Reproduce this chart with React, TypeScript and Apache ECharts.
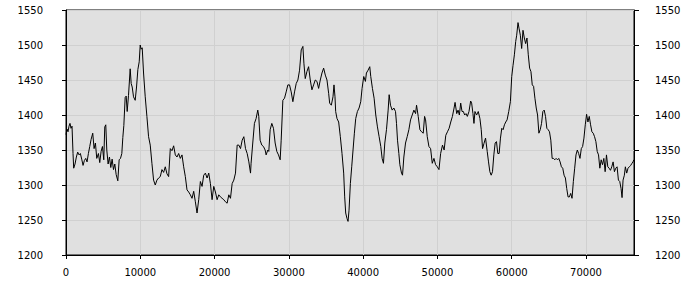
import React, { useEffect, useRef } from "react";
import * as echarts from "echarts";

const xValues: number[] = [
  0, 135, 270, 405, 540, 675, 810, 945, 1035, 1215, 1395, 1575, 1755, 1935, 2115, 2295, 2475, 2655, 2835, 3015,
  3195, 3375, 3600, 3780, 3960, 4140, 4365, 4545, 4725, 4905, 5085, 5220, 5355, 5490, 5670, 5850, 6030, 6210, 6390, 6570,
  6750, 6975, 7155, 7335, 7515, 7650, 7785, 7965, 8100, 8235, 8415, 8640, 8775, 8910, 9090, 9315, 9495, 9675, 9855, 9990,
  10125, 10260, 10440, 10665, 10890, 11115, 11340, 11565, 11790, 12015, 12240, 12465, 12690, 12915, 13140, 13365, 13590, 13815, 14040, 14265,
  14490, 14715, 14940, 15165, 15390, 15615, 15840, 16065, 16290, 16515, 16740, 16965, 17190, 17415, 17640, 17865, 18090, 18315, 18540, 18765,
  18990, 19215, 19440, 19665, 19890, 20115, 20340, 20565, 20790, 21015, 21240, 21465, 21690, 21915, 22140, 22365, 22590, 22815, 23040, 23265,
  23490, 23715, 23940, 24165, 24390, 24615, 24840, 24915, 25140, 25365, 25590, 25815, 25950, 26130, 26355, 26580, 26805, 26940, 27165, 27300,
  27480, 27705, 27930, 28155, 28380, 28605, 28830, 28965, 29190, 29415, 29640, 29865, 30090, 30315, 30540, 30765, 30990, 31215, 31440, 31665,
  31890, 32025, 32205, 32430, 32655, 32880, 33105, 33330, 33555, 33780, 34005, 34230, 34455, 34680, 34905, 35130, 35355, 35490, 35715, 35940,
  36075, 36210, 36300, 36480, 36705, 36930, 37155, 37380, 37515, 37650, 37830, 37965, 38100, 38280, 38460, 38640, 38820, 39000, 39225, 39450,
  39675, 39855, 40080, 40305, 40440, 40665, 40890, 41025, 41250, 41475, 41700, 41925, 42150, 42375, 42555, 42735, 42915, 43140, 43365, 43500,
  43680, 43905, 44130, 44355, 44490, 44625, 44805, 44940, 45165, 45300, 45480, 45705, 45930, 46155, 46380, 46605, 46830, 47055, 47190, 47415,
  47640, 47865, 48090, 48270, 48405, 48630, 48855, 49080, 49305, 49530, 49755, 49980, 50205, 50430, 50680, 50902, 51125, 51348, 51571, 51794,
  52017, 52240, 52374, 52597, 52775, 52953, 53132, 53310, 53488, 53667, 53845, 54024, 54247, 54470, 54604, 54782, 54916, 55050, 55273, 55495,
  55718, 55897, 56075, 56254, 56477, 56700, 56878, 57056, 57235, 57413, 57592, 57770, 57948, 58127, 58305, 58484, 58662, 58840, 59019, 59197,
  59376, 59599, 59822, 60000, 60178, 60357, 60535, 60669, 60847, 60981, 61160, 61338, 61516, 61695, 61873, 62052, 62230, 62408, 62587, 62765,
  62944, 63122, 63300, 63479, 63657, 63836, 64014, 64192, 64371, 64549, 64728, 64906, 65084, 65263, 65441, 65620, 65798, 65976, 66155, 66333,
  66512, 66690, 66868, 67047, 67225, 67404, 67582, 67760, 67939, 68117, 68296, 68474, 68652, 68831, 69009, 69188, 69366, 69544, 69723, 69901,
  70080, 70258, 70436, 70615, 70793, 70972, 71150, 71328, 71507, 71685, 71864, 72042, 72220, 72399, 72577, 72756, 72934, 73112, 73291, 73469,
  73648, 73826, 74004, 74183, 74361, 74540, 74718, 74852, 74986, 75164, 75298, 75476, 75655, 75833, 76012, 76190, 76324, 76440
];

const yValues: number[] = [
  1372, 1380, 1376, 1384, 1388, 1381, 1384, 1345, 1324, 1330, 1340, 1347, 1343, 1345, 1337, 1328, 1335, 1338, 1333, 1345,
  1355, 1365, 1374, 1352, 1360, 1338, 1345, 1332, 1348, 1355, 1336, 1383, 1386, 1350, 1330, 1340, 1325, 1337, 1322, 1330,
  1315, 1306, 1336, 1338, 1345, 1368, 1385, 1425, 1427, 1405, 1428, 1466, 1445, 1440, 1426, 1421, 1440, 1465, 1476, 1500,
  1494, 1496, 1460, 1426, 1398, 1369, 1357, 1331, 1307, 1300, 1307, 1310, 1312, 1322, 1318, 1326, 1316, 1312, 1352, 1349,
  1356, 1343, 1340, 1345, 1338, 1343, 1326, 1312, 1293, 1290, 1286, 1281, 1291, 1276, 1260, 1279, 1305, 1298, 1314, 1317,
  1310, 1317, 1302, 1279, 1298, 1290, 1279, 1286, 1283, 1281, 1279, 1276, 1274, 1286, 1281, 1302, 1307, 1317, 1357, 1357,
  1352, 1364, 1369, 1352, 1345, 1333, 1317, 1331, 1360, 1388, 1395, 1407, 1398, 1364, 1357, 1355, 1350, 1343, 1350, 1348,
  1379, 1388, 1381, 1360, 1348, 1343, 1336, 1364, 1421, 1424, 1433, 1443, 1443, 1433, 1419, 1433, 1445, 1450, 1464, 1493,
  1498, 1474, 1452, 1462, 1469, 1450, 1436, 1443, 1450, 1448, 1438, 1450, 1460, 1467, 1457, 1450, 1431, 1417, 1414, 1426,
  1443, 1426, 1405, 1395, 1390, 1369, 1345, 1317, 1283, 1260, 1252, 1248, 1264, 1302, 1326, 1350, 1374, 1395, 1405, 1410,
  1419, 1438, 1455, 1448, 1460, 1464, 1469, 1455, 1438, 1424, 1400, 1383, 1369, 1355, 1338, 1331, 1360, 1379, 1407, 1429,
  1414, 1407, 1410, 1405, 1388, 1364, 1345, 1329, 1317, 1314, 1340, 1360, 1369, 1379, 1393, 1400, 1407, 1402, 1414, 1398,
  1379, 1376, 1374, 1398, 1393, 1369, 1355, 1352, 1331, 1338, 1329, 1326, 1322, 1345, 1357, 1350, 1371, 1376, 1381, 1390,
  1398, 1410, 1418, 1402, 1407, 1400, 1417, 1405, 1405, 1400, 1402, 1398, 1405, 1420, 1417, 1402, 1388, 1405, 1400, 1405,
  1395, 1379, 1352, 1359, 1367, 1348, 1333, 1319, 1314, 1319, 1343, 1360, 1362, 1345, 1345, 1367, 1381, 1379, 1386, 1390,
  1393, 1405, 1419, 1455, 1471, 1486, 1505, 1514, 1532, 1524, 1514, 1495, 1521, 1510, 1502, 1510, 1486, 1467, 1462, 1443,
  1441, 1424, 1410, 1400, 1374, 1379, 1388, 1405, 1407, 1398, 1381, 1379, 1376, 1364, 1338, 1338, 1336, 1338, 1336, 1338,
  1333, 1326, 1324, 1314, 1310, 1295, 1283, 1283, 1288, 1281, 1305, 1324, 1343, 1350, 1345, 1338, 1352, 1355, 1367, 1386,
  1401, 1390, 1398, 1386, 1376, 1374, 1369, 1362, 1348, 1343, 1324, 1336, 1329, 1338, 1319, 1343, 1326, 1324, 1321, 1326,
  1333, 1319, 1324, 1326, 1307, 1305, 1295, 1282, 1307, 1314, 1326, 1317, 1324, 1326, 1328, 1331, 1333, 1336
];

const xTicks: number[] = [0, 10000, 20000, 30000, 40000, 50000, 60000, 70000];
const xMin = 0;
const xMax = 76460;
const yMin = 1200;
const yMax = 1550;
const yStep = 50;

const FONT = "DejaVu Sans";

export default function App() {
  const ref = useRef<HTMLDivElement>(null);

  useEffect(() => {
    if (!ref.current) return;
    const chart = echarts.init(ref.current, null, { renderer: "svg" });
    const points = xValues.map((x, i) => [x, yValues[i]]);
    const label = {
      color: "#000",
      fontFamily: FONT,
      fontSize: 10,
      formatter: (v: number) => String(v),
    };
    chart.setOption({
      animation: false,
      grid: {
        left: 66,
        right: 66,
        top: 10,
        bottom: 45,
        show: true,
        backgroundColor: "#e0e0e0",
        borderColor: "#000",
        borderWidth: 1,
      },
      xAxis: {
        type: "value",
        min: xMin,
        max: xMax,
        interval: 10000,
        axisLine: { show: true, lineStyle: { color: "#000", width: 1 } },
        axisTick: { show: true, length: 4, lineStyle: { color: "#000" }, customValues: xTicks },
        axisLabel: { ...label, margin: 12, customValues: xTicks },
        splitLine: { show: true, lineStyle: { color: "#d0d0d0", width: 1 } },
      },
      yAxis: [
        {
          type: "value",
          position: "left",
          min: yMin,
          max: yMax,
          interval: yStep,
          axisLine: { show: true, lineStyle: { color: "#000", width: 1 } },
          axisTick: { show: true, length: 4, lineStyle: { color: "#000" } },
          axisLabel: { ...label, margin: 23 },
          splitLine: { show: true, lineStyle: { color: "#d0d0d0", width: 1 } },
        },
        {
          type: "value",
          position: "right",
          min: yMin,
          max: yMax,
          interval: yStep,
          axisLine: { show: true, lineStyle: { color: "#000", width: 1 } },
          axisTick: { show: true, length: 5, lineStyle: { color: "#000" } },
          axisLabel: { ...label, margin: 21 },
          splitLine: { show: false },
        },
      ],
      series: [
        {
          type: "line",
          data: points,
          showSymbol: false,
          symbol: "none",
          lineStyle: { color: "#000", width: 1 },
          z: 5,
        },
      ],
    });
    return () => chart.dispose();
  }, []);

  return (
    <div
      ref={ref}
      style={{ position: "fixed", left: 0, top: 0, width: 700, height: 300, background: "#fff" }}
    />
  );
}
